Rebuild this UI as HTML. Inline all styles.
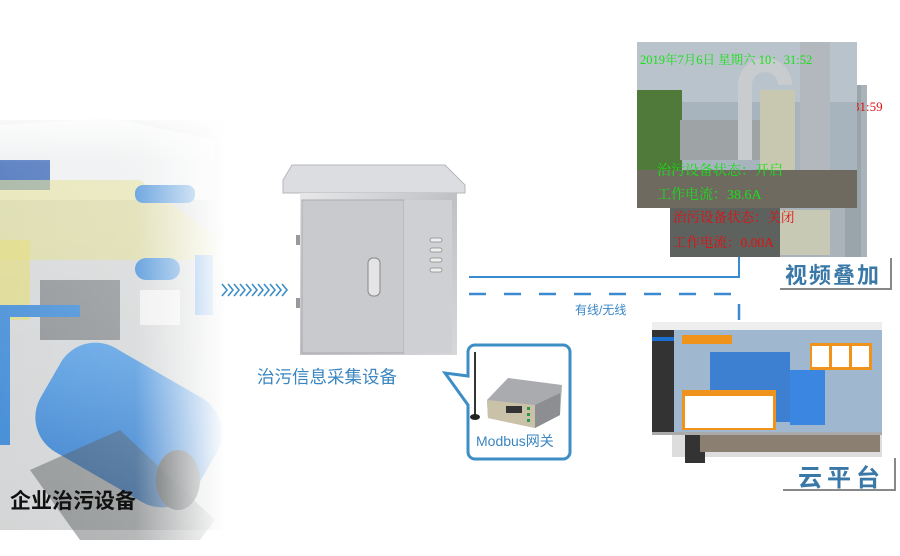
<!DOCTYPE html>
<html><head><meta charset="utf-8"><style>
html,body{margin:0;padding:0;background:#fff;}
svg{display:block;}
.s{font-family:"Liberation Sans","Noto Sans CJK SC",sans-serif;}
.r{font-family:"Liberation Serif","Noto Serif CJK SC",serif;}
</style></head><body>
<svg width="900" height="556" viewBox="0 0 900 556" xmlns="http://www.w3.org/2000/svg">
<defs>
<linearGradient id="fadeR" x1="0" x2="1" y1="0" y2="0">
<stop offset="0" stop-color="#fff" stop-opacity="0"/><stop offset="0.6" stop-color="#fff" stop-opacity="0.1"/><stop offset="1" stop-color="#fff" stop-opacity="1"/></linearGradient>
<linearGradient id="fadeT" x1="0" x2="0" y1="0" y2="1">
<stop offset="0" stop-color="#fff" stop-opacity="1"/><stop offset="0.12" stop-color="#fff" stop-opacity="0.2"/><stop offset="1" stop-color="#fff" stop-opacity="0"/></linearGradient>
<linearGradient id="steel" x1="0" x2="1" y1="0" y2="1">
<stop offset="0" stop-color="#e8e8ea"/><stop offset="0.5" stop-color="#bfc1c4"/><stop offset="1" stop-color="#d6d7d9"/></linearGradient>
<linearGradient id="tank" x1="0" x2="1" y1="0" y2="1">
<stop offset="0" stop-color="#5aa2e6"/><stop offset="1" stop-color="#2f74c4"/></linearGradient>
</defs>

<g>
<rect x="0" y="120" width="225" height="410" fill="#d3d5d6"/>
<polygon points="0,125 110,118 215,140 215,200 0,200" fill="#eceeef"/>
<rect x="0" y="160" width="50" height="30" fill="#3a66b5"/>
<polygon points="0,180 140,180 220,240 220,260 0,260" fill="#e0dc86" opacity="0.6"/>
<rect x="0" y="240" width="30" height="80" fill="#e0d870" opacity="0.7"/>
<rect x="135" y="185" width="60" height="18" rx="8" fill="#3f8ad6"/>
<rect x="135" y="258" width="45" height="22" rx="11" fill="#3f8ad6"/>
<rect x="195" y="255" width="18" height="60" fill="#4a92dc"/>
<rect x="40" y="280" width="80" height="60" fill="#8b8f92"/>
<rect x="140" y="290" width="40" height="35" fill="#eee"/>
<rect x="0" y="305" width="80" height="12" fill="#3f8ad6"/>
<rect x="0" y="305" width="10" height="140" fill="#3f8ad6"/>
<g transform="rotate(30 120 420)">
<rect x="40" y="360" width="180" height="120" rx="40" fill="url(#tank)"/>
</g>
<ellipse cx="178" cy="480" rx="22" ry="30" fill="#55595c"/>
<polygon points="30,470 120,430 215,520 200,540 80,540" fill="#4a4d50" opacity="0.45"/>
<rect x="0" y="110" width="226" height="440" fill="url(#fadeR)"/>
<rect x="0" y="110" width="226" height="440" fill="url(#fadeT)"/>
</g>
<text class="s" x="10" y="508" font-size="21" font-weight="bold" fill="#111">企业治污设备</text>

<g fill="none" stroke="#3d8ec5" stroke-width="1.6">
<path d="M222,284 l5,6 l-5,6 M228,284 l5,6 l-5,6 M234,284 l5,6 l-5,6 M240,284 l5,6 l-5,6 M246,284 l5,6 l-5,6 M252,284 l5,6 l-5,6 M258,284 l5,6 l-5,6 M264,284 l5,6 l-5,6 M270,284 l5,6 l-5,6 M276,284 l5,6 l-5,6 M282,284 l5,6 l-5,6"/>
</g>

<polygon points="283,180 292,165 445,165 465,185 465,193 283,193" fill="#dcdde0" stroke="#b5b7ba"/>
<rect x="300" y="193" width="157" height="162" fill="url(#steel)"/>
<rect x="302" y="200" width="102" height="153" fill="#c9cacd" stroke="#a9abae"/>
<rect x="404" y="200" width="48" height="153" fill="#cfd0d3"/>
<g fill="#eee" stroke="#888" stroke-width="0.8">
<rect x="430" y="238" width="12" height="4" rx="2"/><rect x="430" y="248" width="12" height="4" rx="2"/>
<rect x="430" y="258" width="12" height="4" rx="2"/><rect x="430" y="268" width="12" height="4" rx="2"/>
</g>
<rect x="368" y="258" width="12" height="38" rx="5" fill="#e4e4e6" stroke="#888"/>
<rect x="296" y="235" width="4" height="10" fill="#999"/><rect x="296" y="298" width="4" height="10" fill="#999"/>
<text class="s" x="257" y="383" font-size="17.5" fill="#3b86c0">治污信息采集设备</text>

<path d="M469,277 H739 V255" fill="none" stroke="#3a8ad0" stroke-width="2"/>
<path d="M469,294 H739 V320" fill="none" stroke="#3a8ad0" stroke-width="2.5" stroke-dasharray="17,18"/>
<text class="s" x="575" y="314" font-size="12" fill="#3a86c8">有线/无线</text>

<path d="M475,345 H563 a7,7 0 0 1 7,7 V452 a7,7 0 0 1 -7,7 H475 a7,7 0 0 1 -7,-7 V405 L445,373 L468,376 V352 a7,7 0 0 1 7,-7 Z" fill="#fff" stroke="#3d8ec5" stroke-width="3"/>
<line x1="475" y1="352" x2="475" y2="416" stroke="#333" stroke-width="2"/>
<ellipse cx="475" cy="417" rx="5" ry="3" fill="#222"/>
<polygon points="487,400 508,378 562,385 560,415 535,428 488,418" fill="#a9abaf"/>
<polygon points="487,400 535,405 535,428 488,418" fill="#c9c2a8"/>
<polygon points="535,405 560,393 560,415 535,428" fill="#8c8e91"/>
<rect x="506" y="406" width="16" height="7" fill="#333"/>
<g fill="#2a9a4a"><rect x="527" y="407" width="3" height="3"/><rect x="527" y="413" width="3" height="3"/><rect x="527" y="419" width="3" height="3"/></g>
<text class="s" x="476" y="446" font-size="14" fill="#3b86c0">Modbus网关</text>

<rect x="668" y="85" width="199" height="172" fill="#fff"/>
<rect x="670" y="85" width="197" height="172" fill="#8c949a"/>
<rect x="770" y="85" width="97" height="172" fill="#aab3ba"/>
<rect x="845" y="85" width="16" height="172" fill="#9aa4ab"/>
<rect x="670" y="200" width="110" height="57" fill="#5e625f"/>
<rect x="780" y="210" width="50" height="45" fill="#c8c9b5"/>
<text class="r" x="853" y="111" font-size="13" fill="#e01010">31:59</text>
<text class="r" x="673" y="222" font-size="13.5" fill="#e01010">治污设备状态：关闭</text>
<text class="r" x="673" y="247" font-size="13.5" fill="#e01010">工作电流：0.00A</text>
<rect x="637" y="42" width="220" height="166" fill="#a7b3bd"/>
<rect x="637" y="42" width="220" height="60" fill="#b9c3cb"/>
<rect x="637" y="90" width="45" height="80" fill="#4f7a3a"/>
<rect x="680" y="120" width="80" height="40" fill="#9ea3a6"/>
<rect x="760" y="90" width="35" height="110" fill="#c8c8b0"/>
<path d="M745,160 V85 a20,20 0 0 1 40,0" fill="none" stroke="#c9ccce" stroke-width="14"/>
<rect x="800" y="42" width="30" height="166" fill="#b2b8bd"/>
<rect x="637" y="170" width="220" height="38" fill="#6f6a60"/>
<text class="r" x="640" y="64" font-size="12.5" fill="#18e018">2019年7月6日 星期六 10：31:52</text>
<text class="r" x="657" y="175" font-size="14" fill="#18e018">治污设备状态：开启</text>
<text class="r" x="657" y="199" font-size="14" fill="#18e018">工作电流：38.6A</text>
<rect x="780" y="258" width="111" height="31" fill="#fff"/>
<path d="M780,289 H891 V258" fill="none" stroke="#888" stroke-width="2"/>
<text class="s" x="785" y="283" font-size="22" font-weight="bold" fill="#3a78a8" letter-spacing="2">视频叠加</text>

<rect x="672" y="365" width="210" height="92" fill="#ddd"/>
<rect x="685" y="433" width="20" height="30" fill="#333"/>
<rect x="700" y="430" width="180" height="22" fill="#8b7f72"/>
<rect x="652" y="322" width="230" height="112" fill="#9fb8cf"/>
<rect x="652" y="322" width="230" height="8" fill="#eee"/>
<rect x="652" y="330" width="22" height="104" fill="#333"/>
<rect x="652" y="337" width="22" height="4" fill="#1a6fd0"/>
<rect x="710" y="352" width="80" height="70" fill="#3d7fd0"/>
<rect x="790" y="370" width="35" height="55" fill="#3a86e0"/>
<rect x="682" y="335" width="50" height="9" fill="#f0931c"/>
<rect x="682" y="390" width="94" height="40" fill="#f0931c"/>
<rect x="685" y="396" width="88" height="32" fill="#fff"/>
<rect x="810" y="343" width="62" height="27" fill="#f0931c"/>
<rect x="812" y="346" width="17" height="21" fill="#fff"/><rect x="832" y="346" width="17" height="21" fill="#fff"/><rect x="852" y="346" width="17" height="21" fill="#fff"/>
<rect x="652" y="432" width="230" height="3" fill="#aaa"/>
<rect x="783" y="458" width="112" height="32" fill="#fff"/>
<path d="M783,490 H895 V458" fill="none" stroke="#888" stroke-width="2"/>
<text class="s" x="798" y="486" font-size="24" font-weight="bold" fill="#3a78a8" letter-spacing="5">云平台</text>
</svg>
</body></html>
